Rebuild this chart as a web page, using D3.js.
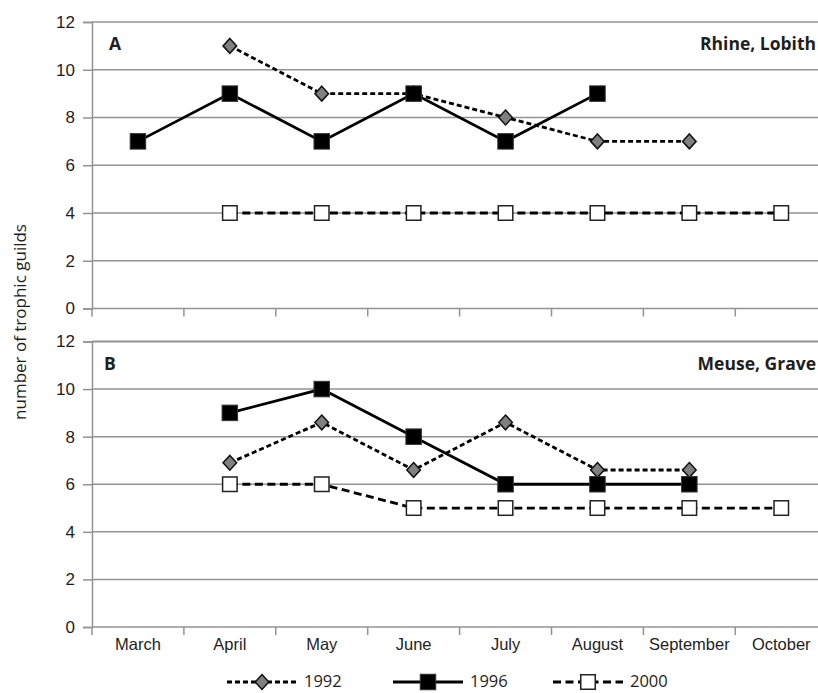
<!DOCTYPE html>
<html>
<head>
<meta charset="utf-8">
<script src="https://cdn.jsdelivr.net/npm/d3@7"></script>
<style>
  html, body { margin: 0; padding: 0; background: #fff; }
  svg { display: block; font-family: "Open Sans", sans-serif; }
</style>
</head>
<body>
<svg id="chart" width="818" height="693"></svg>
<script>
// ---------- data ----------
const months = ["March", "April", "May", "June", "July", "August", "September", "October"];
const yTicks = [0, 2, 4, 6, 8, 10, 12];
const seriesNames = ["1992", "1996", "2000"];

// Panel A: Rhine, Lobith
const rhine1992 = [null, 11, 9, 9, 8, 7, 7, null];
const rhine1996 = [7, 9, 7, 9, 7, 9, null, null];
const rhine2000 = [null, 4, 4, 4, 4, 4, 4, 4];

// Panel B: Meuse, Grave
const meuse1992 = [null, 6.9, 8.6, 6.6, 8.6, 6.6, 6.6, null];
const meuse1996 = [null, 9, 10, 8, 6, 6, 6, null];
const meuse2000 = [null, 6, 6, 5, 5, 5, 5, 5];

const panelLetters = ["A", "B"];
const panelTitles = ["Rhine, Lobith", "Meuse, Grave"];
const yTitle = "number of trophic guilds";

// ---------- layout ----------
const svg = d3.select("#chart");
const left = 92, band = 91.9;
const x = d3.scaleBand().domain(months).range([left, left + band * months.length]).padding(0);
const cx = m => x(m) + x.bandwidth() / 2;

const panels = [
  { top: 22, bottom: 308.5, data: [rhine1992, rhine1996, rhine2000], showLabels: false },
  { top: 341.5, bottom: 627, data: [meuse1992, meuse1996, meuse2000], showLabels: true }
];

const styles = {
  "1992": { dash: "5,3", width: 2.8, marker: "diamond" },
  "1996": { dash: null, width: 2.8, marker: "filled" },
  "2000": { dash: "8,4.5", width: 2.8, marker: "hollow" }
};

const gridColor = "#939393";
const textColor = "#1e1e1e";

function drawMarker(g, type, px, py) {
  if (type === "diamond") {
    const w = 6.8, h = 7.4;
    g.append("path")
      .attr("d", `M${px},${py - h}L${px + w},${py}L${px},${py + h}L${px - w},${py}Z`)
      .attr("fill", "#808080").attr("stroke", "#111").attr("stroke-width", 1.5);
  } else if (type === "filled") {
    const s = 15.5;
    g.append("rect").attr("x", px - s / 2).attr("y", py - s / 2).attr("width", s).attr("height", s)
      .attr("fill", "#000").attr("stroke", "#333").attr("stroke-width", 1);
  } else {
    const s = 14.5;
    g.append("rect").attr("x", px - s / 2).attr("y", py - s / 2).attr("width", s).attr("height", s)
      .attr("fill", "#fff").attr("stroke", "#222").attr("stroke-width", 1.5);
  }
}

panels.forEach((p, pi) => {
  const y = d3.scaleLinear().domain([0, 12]).range([p.bottom, p.top]);
  const g = svg.append("g");

  // gridlines
  g.append("g").selectAll("line").data(yTicks).join("line")
    .attr("x1", left).attr("x2", 830)
    .attr("y1", d => y(d)).attr("y2", d => y(d))
    .attr("stroke", gridColor).attr("stroke-width", d => (d === 12 && pi === 1) ? 2 : 1.5);

  // y axis
  const yAxis = g.append("g").attr("transform", `translate(${left},0)`)
    .call(d3.axisLeft(y).tickValues(yTicks).tickSize(9).tickPadding(8).tickFormat(d3.format("d")));
  yAxis.select(".domain").attr("stroke", gridColor).attr("stroke-width", 1.5);
  yAxis.selectAll(".tick line").attr("stroke", gridColor).attr("stroke-width", 1.5);
  yAxis.selectAll("text").attr("fill", textColor).style("font-size", "17px");

  // x ticks at band boundaries
  const bounds = months.map(m => x(m)).concat([x(months[months.length - 1]) + x.bandwidth()]);
  g.append("g").selectAll("line").data(bounds).join("line")
    .attr("x1", d => d).attr("x2", d => d)
    .attr("y1", p.bottom).attr("y2", p.bottom + 8)
    .attr("stroke", gridColor).attr("stroke-width", 1.5);

  if (p.showLabels) {
    const xAxis = g.append("g").attr("transform", `translate(0,${p.bottom})`)
      .call(d3.axisBottom(x).tickSize(0).tickPadding(11));
    xAxis.select(".domain").remove();
    xAxis.selectAll("text").attr("fill", textColor).style("font-size", "16.5px");
  }

  // series
  p.data.forEach((vals, si) => {
    const name = seriesNames[si];
    const st = styles[name];
    const pts = months.map((m, i) => ({ m, v: vals[i] })).filter(d => d.v !== null);
    const line = d3.line().x(d => cx(d.m)).y(d => y(d.v));
    g.append("path").datum(pts).attr("d", line)
      .attr("fill", "none").attr("stroke", "#000")
      .attr("stroke-width", st.width)
      .attr("stroke-dasharray", st.dash);
    const mg = g.append("g");
    pts.forEach(d => drawMarker(mg, st.marker, cx(d.m), y(d.v)));
  });

  // panel letter & title
  g.append("text").attr("x", pi === 0 ? 109 : 104).attr("y", p.top + 28)
    .attr("fill", textColor).style("font-weight", "bold").style("font-size", "17.5px")
    .text(panelLetters[pi]);
  g.append("text").attr("x", 816).attr("y", p.top + 28).attr("text-anchor", "end")
    .attr("fill", textColor).style("font-weight", "bold").style("font-size", "17.5px")
    .text(panelTitles[pi]);
});

// y axis title
svg.append("text")
  .attr("transform", "translate(26,322) rotate(-90)")
  .attr("text-anchor", "middle").attr("fill", textColor)
  .style("font-size", "17px")
  .text(yTitle);

// legend
const legendCenters = [262, 428, 588];
const legendY = 682;
seriesNames.forEach((name, i) => {
  const st = styles[name];
  const c = legendCenters[i];
  const lg = svg.append("g");
  lg.append("line").attr("x1", c - 35).attr("x2", c + 35).attr("y1", legendY).attr("y2", legendY)
    .attr("stroke", "#000").attr("stroke-width", st.width).attr("stroke-dasharray", st.dash);
  drawMarker(lg, st.marker, c, legendY);
  lg.append("text").attr("x", c + 42).attr("y", legendY + 5)
    .attr("fill", textColor).style("font-size", "16.5px").text(name);
});
</script>
</body>
</html>
